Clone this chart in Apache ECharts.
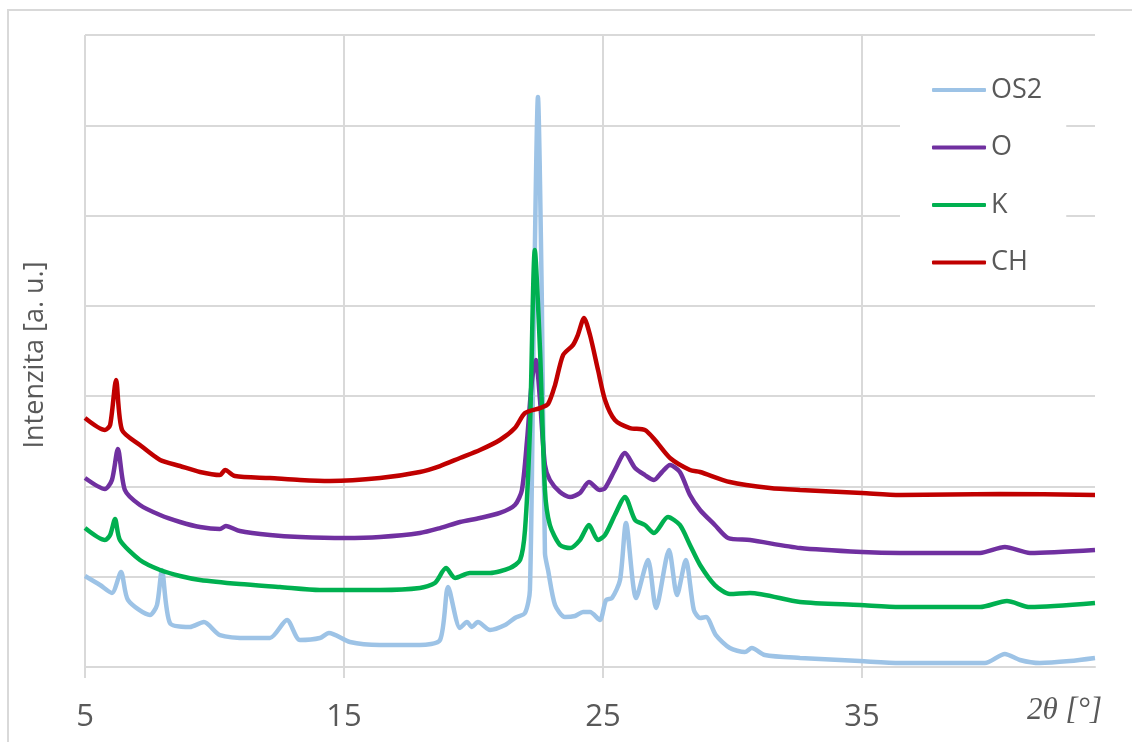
<!DOCTYPE html>
<html>
<head>
<meta charset="utf-8">
<script src="https://cdn.jsdelivr.net/npm/echarts@6/dist/echarts.min.js"></script>
<style>html,body{margin:0;padding:0;background:#fff}#c{width:1132px;height:742px}</style>
</head>
<body>
<div id="c"></div>
<script>
// ---- data (2θ in degrees, intensity in arbitrary units) ----
const seriesNames = ['OS2', 'O', 'K', 'CH'];
const xTickValues = [5, 15, 25, 35];

const os2X = [5.00,5.58,6.04,6.39,6.66,7.51,7.78,7.97,8.28,9.05,9.59,10.21,11.37,12.14,12.80,13.30,14.07,14.42,15.23,16.39,17.93,18.71,19.02,19.48,19.75,19.94,20.17,20.64,21.22,21.60,21.99,22.18,22.34,22.49,22.64,22.76,22.88,23.15,23.53,23.92,24.23,24.50,24.88,25.12,25.35,25.66,25.89,26.28,26.74,27.05,27.55,27.86,28.20,28.51,28.75,28.98,29.36,29.90,30.48,30.75,31.25,32.61,34.92,36.47,39.75,40.52,41.10,41.87,43.03,44.00];
const os2Y = [1008,908,820,1052,742,576,687,1074,487,443,498,354,321,321,520,299,321,377,277,244,244,299,886,432,498,443,498,410,465,543,598,853,4065,6313,4065,1263,1074,687,554,565,609,609,521,742,764,964,1595,764,1185,653,1296,797,1185,631,543,554,354,210,166,210,133,100,66,44,44,144,78,44,66,100];

const oX = [5.00,5.77,6.04,6.27,6.54,7.12,7.90,8.67,9.44,10.21,10.44,10.98,12.14,13.30,15.04,16.39,17.93,18.71,19.48,20.25,21.02,21.60,21.87,22.07,22.26,22.41,22.57,22.76,22.95,23.34,23.73,24.11,24.46,24.88,25.08,25.46,25.85,26.24,26.62,26.97,27.28,27.59,27.97,28.36,28.75,29.32,29.83,30.68,32.61,35.00,36.47,39.56,40.52,41.49,44.00];
const oY = [2093,1971,2071,2414,1960,1794,1683,1606,1550,1528,1562,1506,1462,1440,1429,1440,1484,1539,1606,1650,1706,1794,1960,2514,3179,3400,2957,2237,2071,1938,1883,1927,2049,1960,1982,2182,2370,2204,2126,2071,2160,2237,2160,1905,1739,1573,1429,1406,1318,1274,1263,1263,1329,1263,1296];

const kX = [5.00,5.77,5.97,6.16,6.35,7.12,7.90,8.67,9.44,10.98,12.53,14.07,16.39,17.93,18.51,18.94,19.29,19.86,20.64,21.41,21.80,21.99,22.18,22.37,22.57,22.76,22.95,23.34,23.73,24.11,24.46,24.81,25.08,25.46,25.85,26.24,26.62,26.97,27.51,27.97,28.36,28.75,29.32,29.90,30.68,32.61,34.92,36.47,39.56,40.60,41.49,44.00];
const kY = [1539,1406,1462,1639,1406,1185,1074,1008,964,919,886,853,853,875,930,1096,986,1041,1041,1096,1185,1517,2625,4618,3511,1960,1573,1351,1318,1406,1573,1406,1462,1683,1883,1628,1573,1484,1661,1573,1351,1130,908,808,820,720,687,664,664,731,664,709];

const chX = [5.00,5.77,5.97,6.20,6.43,7.12,7.90,8.67,9.44,10.21,10.41,10.79,12.14,13.30,14.46,16.39,17.93,18.71,19.48,20.25,21.02,21.60,21.99,22.57,22.88,23.15,23.46,23.84,24.03,24.27,24.50,24.81,25.08,25.46,26.04,26.62,27.01,27.59,28.36,28.75,29.90,31.45,32.61,35.00,36.47,40.33,44.00];
const chY = [2758,2625,2680,3179,2625,2459,2293,2226,2160,2126,2182,2115,2093,2071,2060,2093,2160,2226,2315,2403,2514,2647,2813,2868,2913,3123,3455,3566,3677,3865,3677,3289,2957,2736,2647,2625,2514,2315,2182,2160,2049,1982,1960,1927,1905,1916,1905];

const colors = ['#9DC3E6', '#7030A0', '#00B050', '#C00000'];
const xs = [os2X, oX, kX, chX];
const ys = [os2Y, oY, kY, chY];

const zip = (a, b) => a.map((v, i) => [v, b[i]]);
const FONT = '"Open Sans", "Noto Sans", sans-serif';

const chart = echarts.init(document.getElementById('c'), null, {renderer: 'canvas'});
chart.setOption({
  animation: false,
  backgroundColor: '#fff',
  color: colors,
  grid: {left: 85, right: 37, top: 35, bottom: 75, containLabel: false},
  legend: {
    orient: 'vertical',
    left: 900, top: 60,
    padding: [15, 24, 15, 32],
    itemGap: 27.5,
    icon: 'roundRect',
    itemWidth: 54, itemHeight: 4,
    backgroundColor: '#fff',
    data: seriesNames,
    textStyle: {fontFamily: FONT, fontSize: 27, color: '#595959', lineHeight: 30}
  },
  xAxis: {
    type: 'value', min: 5, max: 44,
    axisLine: {show: true, lineStyle: {color: '#D9D9D9', width: 2}},
    axisTick: {show: true, customValues: xTickValues, length: 11, lineStyle: {color: '#D9D9D9', width: 2}},
    axisLabel: {customValues: xTickValues, margin: 35, fontFamily: FONT, fontSize: 31, color: '#595959'},
    splitLine: {show: true, lineStyle: {color: '#D9D9D9', width: 2}}
  },
  yAxis: {
    type: 'value', min: 0, max: 7000, interval: 1000,
    axisLine: {show: false}, axisTick: {show: false}, axisLabel: {show: false},
    splitLine: {show: true, lineStyle: {color: '#D9D9D9', width: 2}}
  },
  graphic: [
    {type: 'rect', shape: {x: 8, y: 10, width: 1300, height: 900}, style: {fill: 'none', stroke: '#D9D9D9', lineWidth: 2}, silent: true, z: -10},
    {type: 'text', x: 35, y: 355, rotation: Math.PI / 2,
     style: {text: 'Intenzita [a. u.]', font: '27px "Open Sans", sans-serif', fill: '#595959', align: 'center', verticalAlign: 'middle'}},
    {type: 'text', x: 1027, y: 711,
     style: {text: '2θ [°]', font: 'italic 31px "Liberation Serif", "DejaVu Serif", serif', fill: '#595959', align: 'left', verticalAlign: 'middle'}}
  ],
  series: seriesNames.map((name, i) => ({
    name: name, type: 'line', showSymbol: false, symbol: 'none', smooth: 0.25,
    lineStyle: {color: colors[i], width: 4.5},
    itemStyle: {color: colors[i]},
    data: zip(xs[i], ys[i])
  }))
});
</script>
</body>
</html>
